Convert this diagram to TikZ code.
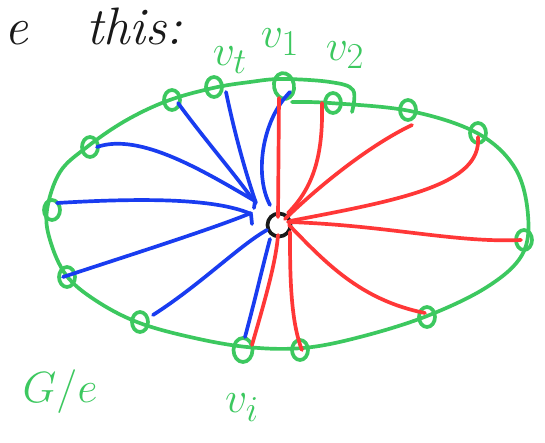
\documentclass[tikz,border=0pt]{standalone}
\usetikzlibrary{shapes.geometric,calc}
\definecolor{gr}{RGB}{60,200,95}
\definecolor{bl}{RGB}{25,60,240}
\definecolor{rd}{RGB}{255,55,55}
\definecolor{ink}{RGB}{25,25,25}
\tikzset{
  pen/.style={line width=2.1pt,line cap=round,line join=round},
  vtx/.style={pen,draw=gr,ellipse,minimum width=0.32cm,minimum height=0.4cm,inner sep=0pt},
  bedge/.style={pen,draw=bl},
  redge/.style={pen,draw=rd},
  lbl/.style={text=gr,font=\fontsize{30}{34}\selectfont,inner sep=0pt},
}
\begin{document}
\begin{tikzpicture}[x=0.02cm,y=-0.02cm]
\useasboundingbox (0,0) rectangle (545,443);
\fill[white] (0,0) rectangle (545,443);
% top handwriting
\node[text=ink,font=\fontsize{30}{36}\selectfont\itshape,anchor=base west,inner sep=0pt] (txt) at (4,44) {e\hspace{1.1em}this:};
% outline
\draw[pen,draw=gr] plot[smooth,tension=0.6] coordinates {(292,102) (330,103) (410,111) (477,133) (515,168) (528,215) (522,255) (487,287) (427,316) (360,337) (303,348) (247,347) (190,337) (137,322) (95,300) (66,275) (50,240) (47,210) (60,172) (87,147) (125,121) (167,101) (213,88) (250,82) (282,79) (330,82) (353,90) (352,112)};
% vertices
\node[vtx] (vt) at (214,87) {};
\node[vtx] (a) at (172,100) {};
\node[vtx] (b) at (90,147) {};
\node[vtx] (c) at (52,210) {};
\node[vtx] (d) at (67,277) {};
\node[vtx] (e) at (140,322) {};
\node[vtx,minimum width=0.38cm,minimum height=0.48cm] (vi) at (243,350) {};
\node[vtx,minimum width=0.4cm,minimum height=0.52cm,rotate=10] (v1) at (284,86) {};
\node[vtx] (v2) at (333,103) {};
\node[vtx] (r1) at (408,110) {};
\node[vtx] (r2) at (478,133) {};
\node[vtx] (r3) at (524,240) {};
\node[vtx] (r4) at (427,317) {};
\node[vtx] (r5) at (300,350) {};
% centre vertex
\node[draw=ink,pen,circle,minimum size=0.46cm,inner sep=0pt] (w) at (279,225) {};
% blue edges
\draw[bedge] ($(v1)+(6,6)$) .. controls (262,120) and (254,175) .. ($(w)+(-9,-20)$);
\draw[bedge] ($(vt)+(12,5)$) .. controls (236,140) and (248,180) .. ($(w)+(-23,-22)$);
\draw[bedge] ($(a)+(6,3)$) .. controls (205,140) and (238,178) .. ($(w)+(-26,-25)$);
\draw[bedge] ($(b)+(7,0)$) .. controls (140,132) and (205,172) .. ($(w)+(-24,-24)$) -- ($(w)+(-25,-17)$);
\draw[bedge] ($(c)+(5,-7)$) .. controls (140,198) and (215,198) .. ($(w)+(-28,-11)$) -- ($(w)+(-27,-1)$);
\draw[bedge] ($(d)+(-4,0)$) .. controls (130,255) and (215,228) .. ($(w)+(-28,-12)$);
\draw[bedge] ($(e)+(13,-7)$) .. controls (200,285) and (240,245) .. ($(w)+(-12,5)$);
\draw[bedge] ($(vi)+(2,-13)$) .. controls (255,300) and (263,265) .. ($(w)+(-9,14)$);
% red edges
\draw[redge] ($(v1)+(-5,12)$) -- ($(w)+(-1,-8)$);
\draw[redge] ($(v2)+(-11,0)$) .. controls (323,150) and (316,185) .. ($(w)+(9,-12)$);
\draw[redge] ($(r1)+(4,15)$) .. controls (370,145) and (320,185) .. ($(w)+(6,-6)$);
\draw[redge] ($(r2)+(0,4)$) .. controls (482,185) and (400,200) .. ($(w)+(11,-4)$);
\draw[redge] ($(r3)+(-3,0)$) .. controls (455,243) and (385,225) .. ($(w)+(9,-3)$);
\draw[redge] ($(r4)+(-2,-4)$) .. controls (360,300) and (325,262) .. ($(w)+(10,0)$);
\draw[redge] ($(r5)+(2,0)$) .. controls (290,320) and (290,270) .. ($(w)+(11,7)$);
\draw[redge] ($(vi)+(9,-5)$) .. controls (265,300) and (276,262) .. ($(w)+(-1,10)$);
% labels
\node[lbl] (lvt) at (230,60) {$v_t$};
\node[lbl] (lv1) at (280,42) {$v_1$};
\node[lbl] (lv2) at (345,55) {$v_2$};
\node[lbl] (lvi) at (242,408) {$v_i$};
\node[lbl,font=\fontsize{44}{50}\selectfont] (lg) at (60,392) {$G/e$};
\end{tikzpicture}
\end{document}
